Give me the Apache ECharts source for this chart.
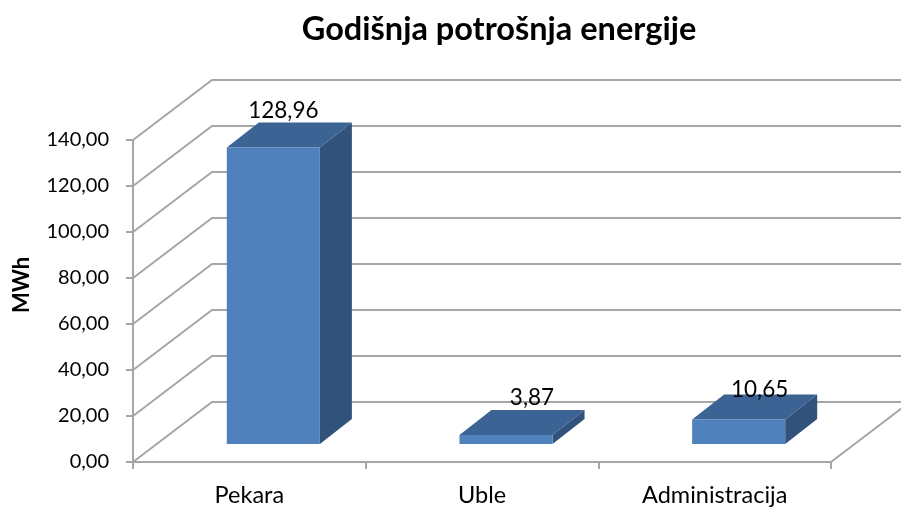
<!DOCTYPE html>
<html>
<head>
<meta charset="utf-8">
<style>html,body{margin:0;padding:0;background:#fff}#c{width:901px;height:517px}</style>
<script src="https://cdn.jsdelivr.net/npm/echarts@6/dist/echarts.min.js"></script>
</head>
<body>
<div id="c"></div>
<script>
const categories = ['Pekara', 'Uble', 'Administracija'];
const values = [128.96, 3.87, 10.65];
const yTicks = [0, 20, 40, 60, 80, 100, 120, 140];
const titleText = 'Godišnja potrošnja energije';
const yAxisName = 'MWh';

const FONT = 'Lato';
const WALL = [79, -60];      // projection of the chart's depth
const BAR_START = [24, -18]; // where a bar's front sits on the floor
const BAR_DEPTH = [32, -25];
const LABEL_NUDGE = [[10, -37], [26, -37], [21, -30]];
const GRID_COLOR = '#a6a6a6';
const fmt = v => v.toFixed(2).replace('.', ',');

const chart = echarts.init(document.getElementById('c'));
chart.setOption({
  animation: false,
  backgroundColor: '#fff',
  title: {
    text: titleText, left: 494, top: 8, textAlign: 'center',
    textStyle: { fontFamily: FONT, fontSize: 32.5, fontWeight: 'bold', color: '#000' }
  },
  grid: { left: 133, right: 70, top: 140, bottom: 55 },
  xAxis: {
    type: 'category', data: categories,
    axisLine: { lineStyle: { color: GRID_COLOR, width: 2 } },
    axisTick: { show: true, length: 7, lineStyle: { color: GRID_COLOR, width: 2 } },
    axisLabel: { fontFamily: FONT, fontSize: 23.5, color: '#000', margin: 21 },
    splitLine: { show: false }
  },
  yAxis: {
    type: 'value', min: 0, max: 140, interval: 20,
    name: yAxisName, nameLocation: 'middle', nameGap: 100, nameRotate: 90,
    nameTextStyle: { fontFamily: FONT, fontSize: 22, fontWeight: 'bold', color: '#000', padding: [0, 0, 0, 32] },
    axisLine: { show: true, lineStyle: { color: GRID_COLOR, width: 2 } },
    axisTick: { show: true, length: 7, lineStyle: { color: GRID_COLOR, width: 2 } },
    axisLabel: { fontFamily: FONT, fontSize: 20, color: '#000', margin: 24, padding: [4, 0, 0, 0], formatter: fmt },
    splitLine: { show: false }
  },
  series: [
    {
      type: 'custom', clip: false, silent: true, z: 1,
      data: yTicks.map(t => [0, t]),
      encode: { x: 0, y: 1 },
      renderItem(params, api) {
        const c = params.coordSys;
        const y = api.coord([0, api.value(1)])[1];
        const pts = [[c.x, y], [c.x + WALL[0], y + WALL[1]], [c.x + c.width + WALL[0], y + WALL[1]]];
        if (api.value(1) === 0) pts.push([c.x + c.width, y]);
        return { type: 'polyline', shape: { points: pts }, style: { stroke: GRID_COLOR, lineWidth: 2, fill: null } };
      }
    },
    {
      type: 'custom', clip: false, silent: true, z: 2,
      data: values.map((v, i) => [i, v]),
      encode: { x: 0, y: 1 },
      renderItem(params, api) {
        const i = api.value(0), v = api.value(1);
        const top = api.coord([i, v]), base = api.coord([i, 0]);
        const w = api.size([1, 0])[0] * 0.4;
        const l = top[0] - w / 2 + BAR_START[0], r = l + w;
        const t = top[1] + BAR_START[1], b = base[1] + BAR_START[1];
        const dx = BAR_DEPTH[0], dy = BAR_DEPTH[1];
        const n = LABEL_NUDGE[i];
        return {
          type: 'group',
          children: [
            { type: 'polygon', shape: { points: [[r, t], [r + dx, t + dy], [r + dx, b + dy], [r, b]] }, style: { fill: '#31527a' } },
            { type: 'polygon', shape: { points: [[l, t], [l + dx, t + dy], [r + dx, t + dy], [r, t]] }, style: { fill: '#3b6394' } },
            { type: 'rect', shape: { x: l, y: t, width: w, height: b - t }, style: { fill: '#4f81bd' } },
            { type: 'text', style: { text: fmt(v), x: (l + r) / 2 + n[0], y: t + n[1], align: 'center', verticalAlign: 'middle', fontFamily: FONT, fontSize: 22.5, fill: '#000' } }
          ]
        };
      }
    }
  ]
});
</script>
</body>
</html>
